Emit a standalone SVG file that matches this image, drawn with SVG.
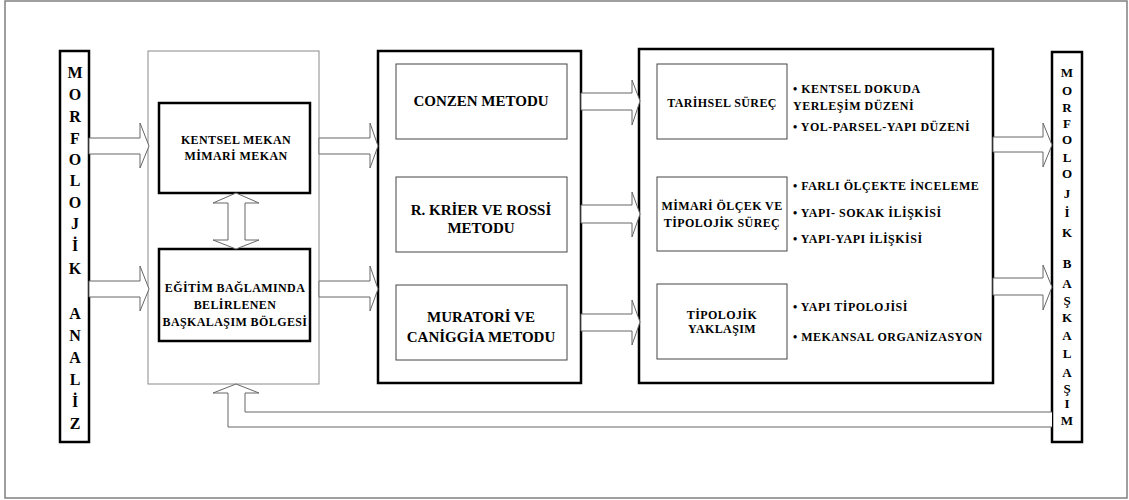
<svg xmlns="http://www.w3.org/2000/svg" width="1129" height="500" viewBox="0 0 1129 500" font-family="'Liberation Serif', 'DejaVu Serif', serif">
<style>
.frame{fill:#fff;stroke:#808080;stroke-width:1.5}
.thick{fill:#fff;stroke:#000;stroke-width:2.5}
.gray{fill:#fff;stroke:#8a8a8a;stroke-width:1}
.inner{fill:#fff;stroke:#444;stroke-width:1}
.arrow{fill:#fff;stroke:#666;stroke-width:1}
text{font-family:'Liberation Serif','DejaVu Serif',serif;font-weight:bold;fill:#000}
.big{font-size:16px;text-anchor:middle}
.bar2{font-size:13px;text-anchor:middle}
.s{font-size:12px;letter-spacing:0.4px;text-anchor:middle}
.b{font-size:12px;letter-spacing:0.5px}
.m{font-size:15px;text-anchor:middle}
</style>
<rect class="frame" x="5" y="1" width="1122" height="497"/>

<g id="morfolojik-analiz">
<rect class="thick" x="60" y="51" width="29" height="391"/>
<text class="big" x="75" y="78">M</text>
<text class="big" x="75" y="100">O</text>
<text class="big" x="75" y="122">R</text>
<text class="big" x="75" y="144">F</text>
<text class="big" x="75" y="165">O</text>
<text class="big" x="75" y="186">L</text>
<text class="big" x="75" y="208">O</text>
<text class="big" x="75" y="229">J</text>
<text class="big" x="75" y="251">İ</text>
<text class="big" x="75" y="274">K</text>
<text class="big" x="75" y="319">A</text>
<text class="big" x="75" y="341">N</text>
<text class="big" x="75" y="363">A</text>
<text class="big" x="75" y="385">L</text>
<text class="big" x="75" y="407">İ</text>
<text class="big" x="75" y="429">Z</text>
</g>

<g id="mekan-group">
<rect class="gray" x="148" y="51" width="171" height="333"/>
</g>
<g id="kentsel-mekan">
<rect class="thick" x="159" y="103" width="151" height="90"/>
<text class="s" x="236" y="144">KENTSEL MEKAN</text>
<text class="s" x="236" y="160">MİMARİ MEKAN</text>
</g>
<g id="baskalasim-bolgesi">
<rect class="thick" x="159" y="249" width="151" height="92"/>
<text class="s" x="235" y="292">EĞİTİM BAĞLAMINDA</text>
<text class="s" x="235" y="309">BELİRLENEN</text>
<text class="s" x="235" y="326">BAŞKALAŞIM BÖLGESİ</text>
</g>

<g id="methods">
<rect class="thick" x="378" y="51" width="203" height="332"/>
</g>
<g id="conzen">
<rect class="inner" x="396" y="64" width="171" height="75"/>
<text class="m" x="481" y="106">CONZEN METODU</text>
</g>
<g id="krier-rossi">
<rect class="inner" x="396" y="177" width="171" height="75"/>
<text class="m" x="481" y="215">R. KRİER VE ROSSİ</text>
<text class="m" x="481" y="233">METODU</text>
</g>
<g id="muratori-caniggia">
<rect class="inner" x="396" y="285" width="171" height="75"/>
<text class="m" x="481" y="322">MURATORİ VE</text>
<text class="m" x="481" y="342">CANİGGİA METODU</text>
</g>

<g id="analysis">
<rect class="thick" x="639" y="49" width="354" height="334"/>
</g>
<g id="tarihsel-surec">
<rect class="inner" x="657" y="64" width="130" height="75"/>
<text class="s" x="722" y="107">TARİHSEL SÜREÇ</text>
<text class="b" x="793" y="93">• KENTSEL DOKUDA</text>
<text class="b" x="793" y="110">YERLEŞİM DÜZENİ</text>
<text class="b" x="793" y="131">• YOL-PARSEL-YAPI DÜZENİ</text>
</g>
<g id="mimari-olcek">
<rect class="inner" x="657" y="177" width="130" height="74"/>
<text class="s" x="722" y="210">MİMARİ ÖLÇEK VE</text>
<text class="s" x="722" y="227">TİPOLOJİK SÜREÇ</text>
<text class="b" x="793" y="190">• FARLI ÖLÇEKTE İNCELEME</text>
<text class="b" x="793" y="217">• YAPI- SOKAK İLİŞKİSİ</text>
<text class="b" x="793" y="243">• YAPI-YAPI İLİŞKİSİ</text>
</g>
<g id="tipolojik-yaklasim">
<rect class="inner" x="657" y="284" width="130" height="75"/>
<text class="s" x="722" y="319">TİPOLOJİK</text>
<text class="s" x="722" y="333">YAKLAŞIM</text>
<text class="b" x="793" y="311">• YAPI TİPOLOJİSİ</text>
<text class="b" x="793" y="341">• MEKANSAL ORGANİZASYON</text>
</g>

<g id="morfolojik-baskalasim">
<rect class="thick" x="1052" y="52" width="30" height="390"/>
<text class="bar2" x="1067" y="77">M</text>
<text class="bar2" x="1067" y="95">O</text>
<text class="bar2" x="1067" y="112">R</text>
<text class="bar2" x="1067" y="128">F</text>
<text class="bar2" x="1067" y="144">O</text>
<text class="bar2" x="1067" y="162">L</text>
<text class="bar2" x="1067" y="178">O</text>
<text class="bar2" x="1067" y="198">J</text>
<text class="bar2" x="1067" y="217">İ</text>
<text class="bar2" x="1067" y="237">K</text>
<text class="bar2" x="1067" y="268">B</text>
<text class="bar2" x="1067" y="288">A</text>
<text class="bar2" x="1067" y="305">Ş</text>
<text class="bar2" x="1067" y="322">K</text>
<text class="bar2" x="1067" y="340">A</text>
<text class="bar2" x="1067" y="358">L</text>
<text class="bar2" x="1067" y="377">A</text>
<text class="bar2" x="1067" y="393">Ş</text>
<text class="bar2" x="1067" y="408">I</text>
<text class="bar2" x="1067" y="425">M</text>
</g>

<g id="connectors">
<polygon class="arrow" points="89,138 140,138 140,123 149,146 140,168 140,154 89,154"/>
<polygon class="arrow" points="89,281 140,281 140,266 149,289 140,311 140,297 89,297"/>
<polygon class="arrow" points="319,138 370,138 370,123 378,146 370,168 370,154 319,154"/>
<polygon class="arrow" points="319,281 370,281 370,266 378,289 370,311 370,297 319,297"/>
<polygon class="arrow" points="581,93 632,93 632,80 640,101 632,125 632,110 581,110"/>
<polygon class="arrow" points="581,205 632,205 632,192 640,214 632,237 632,223 581,223"/>
<polygon class="arrow" points="581,314 632,314 632,300 640,322 632,345 632,331 581,331"/>
<polygon class="arrow" points="993,137 1043,137 1043,123 1052,145 1043,167 1043,152 993,152"/>
<polygon class="arrow" points="993,278 1043,278 1043,265 1052,287 1043,310 1043,295 993,295"/>
<polygon class="arrow" points="236,193 259,203 245,203 245,240 259,240 236,249 213,240 228,240 228,203 213,203"/>
<path class="arrow" fill="none" d="M1052,412 L245,412 L245,393 L259,393 L236,384 L213,393 L228,393 L228,427 L1052,427"/>
</g>
</svg>
